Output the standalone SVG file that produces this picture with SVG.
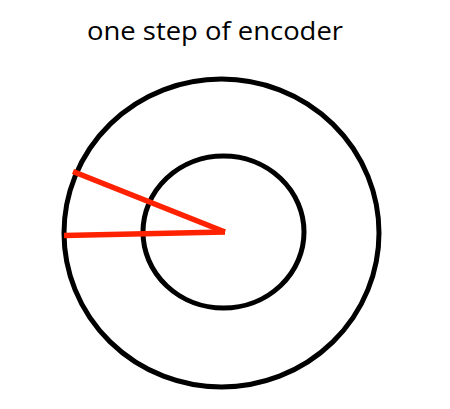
<svg xmlns="http://www.w3.org/2000/svg" width="450" height="409" viewBox="0 0 450 409">
<style>
.ring{fill:none;stroke:#000;stroke-width:5}
.ray{stroke:#ff2200;stroke-width:5.5;stroke-linecap:butt}
.title{font-family:"Open Sans","Liberation Sans",sans-serif;font-size:26px;fill:#000}
</style>
<rect width="450" height="409" fill="#fff"/>
<text class="title" x="215" y="40" text-anchor="middle" textLength="256" lengthAdjust="spacingAndGlyphs">one step of encoder</text>
<g id="outer-circle"><ellipse class="ring" cx="221.5" cy="233" rx="157.5" ry="154"/></g>
<g id="inner-circle"><ellipse class="ring" cx="223.5" cy="232" rx="80.5" ry="76"/></g>
<g id="connectors">
<line class="ray" x1="225" y1="232" x2="73" y2="171.5"/>
<line class="ray" x1="225" y1="232" x2="64" y2="235.5"/>
</g>
</svg>
